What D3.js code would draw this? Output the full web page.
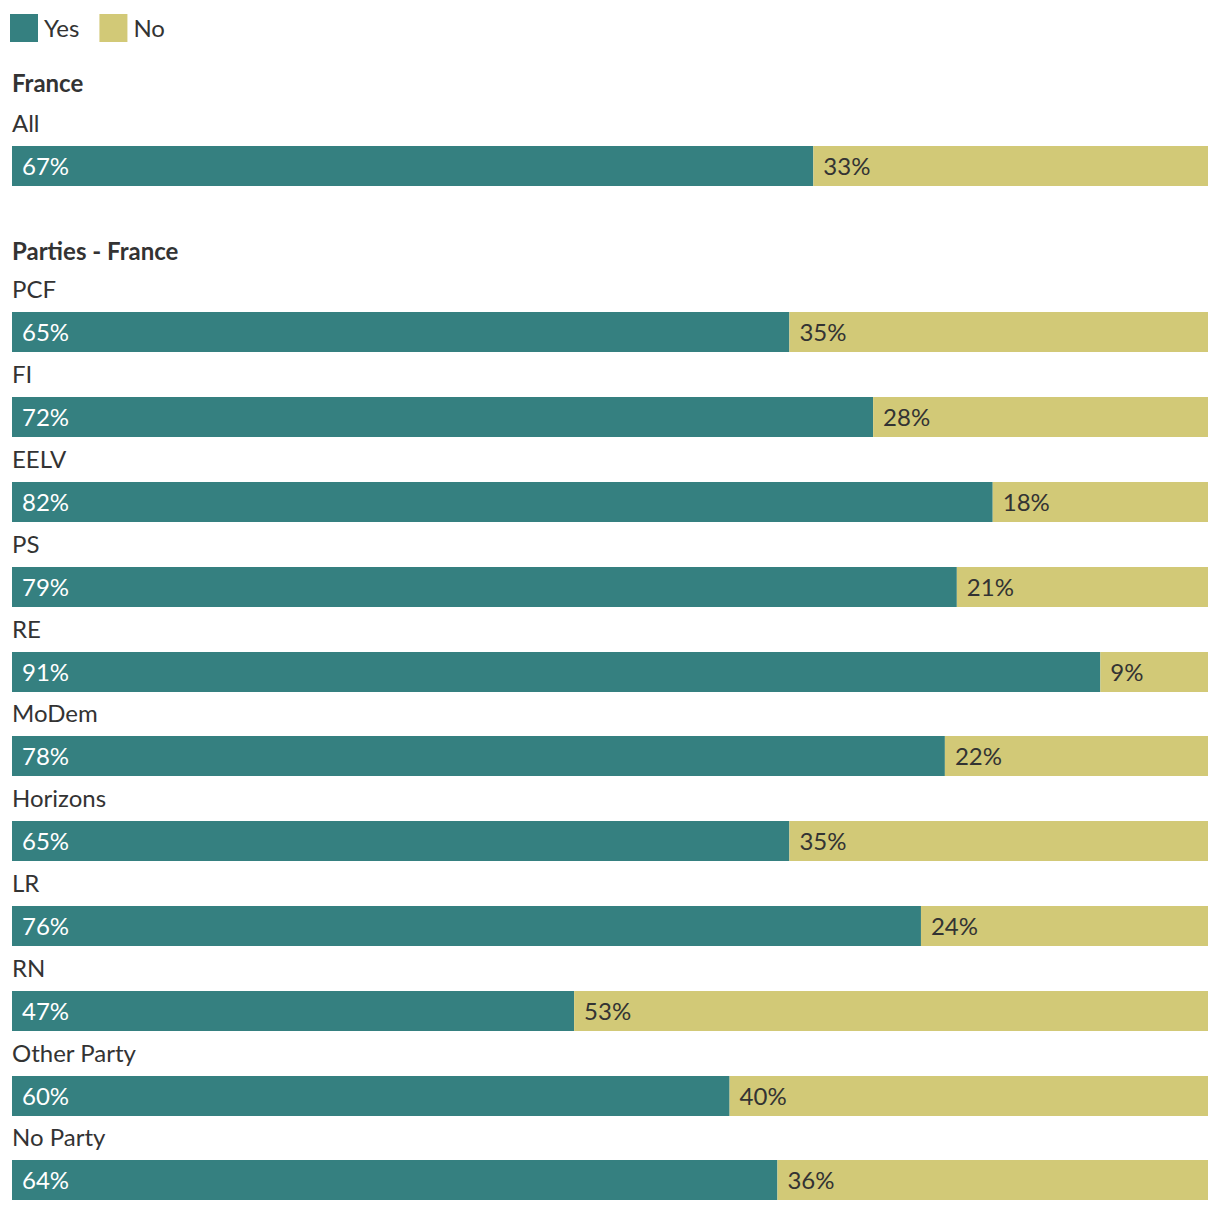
<!DOCTYPE html>
<html><head><meta charset="utf-8">
<script src="https://cdn.jsdelivr.net/npm/d3@7"></script>
<style>body{margin:0;background:#fff}text{font-family:Lato,sans-serif}</style>
</head><body><svg id="c" width="1220" height="1212"></svg>
<script>
const seriesNames = ["Yes", "No"];
const colors = ["#358080", "#d2c977"];
const groupTitles = ["France", "Parties - France"];
const franceCats = ["All"];
const franceYes = [67];
const franceNo = [33];
const partyCats = ["PCF","FI","EELV","PS","RE","MoDem","Horizons","LR","RN","Other Party","No Party"];
const partyYes = [65,72,82,79,91,78,65,76,47,60,64];
const partyNo = [35,28,18,21,9,22,35,24,53,40,36];

const svg = d3.select("#c");
const x = d3.scaleLinear().domain([0,100]).range([12,1208]);
const barH = 40;
const fs = 24;

// legend
const lg = svg.append("g");
let lx = 10;
seriesNames.forEach((s,i)=>{
  lg.append("rect").attr("x",lx).attr("y",14).attr("width",28).attr("height",28).attr("fill",colors[i]);
  const t = lg.append("text").attr("x",lx+34).attr("y",28.5).attr("dy","0.35em").attr("font-size",fs).attr("fill","#333").text(s);
  lx += 34 + t.node().getComputedTextLength() + 20;
});

function drawGroup(title, titleY, cats, yes, no, firstBarY, step){
  const g = svg.append("g");
  g.append("text").attr("x",12).attr("y",titleY).attr("dy","0.35em").attr("font-size",fs).attr("font-weight","bold").attr("fill","#333").text(title);
  const y = d3.scaleLinear().domain([0,1]).range([firstBarY, firstBarY+step]);
  cats.forEach((c,i)=>{
    const by = Math.round(y(i));
    g.append("text").attr("x",12).attr("y",by-22.5).attr("dy","0.35em").attr("font-size",fs).attr("fill","#333").text(c);
    g.append("rect").attr("x",x(0)).attr("y",by).attr("width",x(yes[i])-x(0)).attr("height",barH).attr("fill",colors[0]);
    g.append("rect").attr("x",x(yes[i])).attr("y",by).attr("width",x(yes[i]+no[i])-x(yes[i])).attr("height",barH).attr("fill",colors[1]);
    g.append("text").attr("x",x(0)+10).attr("y",by+barH/2+0.5).attr("dy","0.35em").attr("font-size",fs).attr("fill","#fff").text(yes[i]+"%");
    g.append("text").attr("x",x(yes[i])+10).attr("y",by+barH/2+0.5).attr("dy","0.35em").attr("font-size",fs).attr("fill","#333").text(no[i]+"%");
  });
}
drawGroup(groupTitles[0], 84, franceCats, franceYes, franceNo, 146, 84.8);
drawGroup(groupTitles[1], 252, partyCats, partyYes, partyNo, 312.4, 84.8);
</script></body></html>
